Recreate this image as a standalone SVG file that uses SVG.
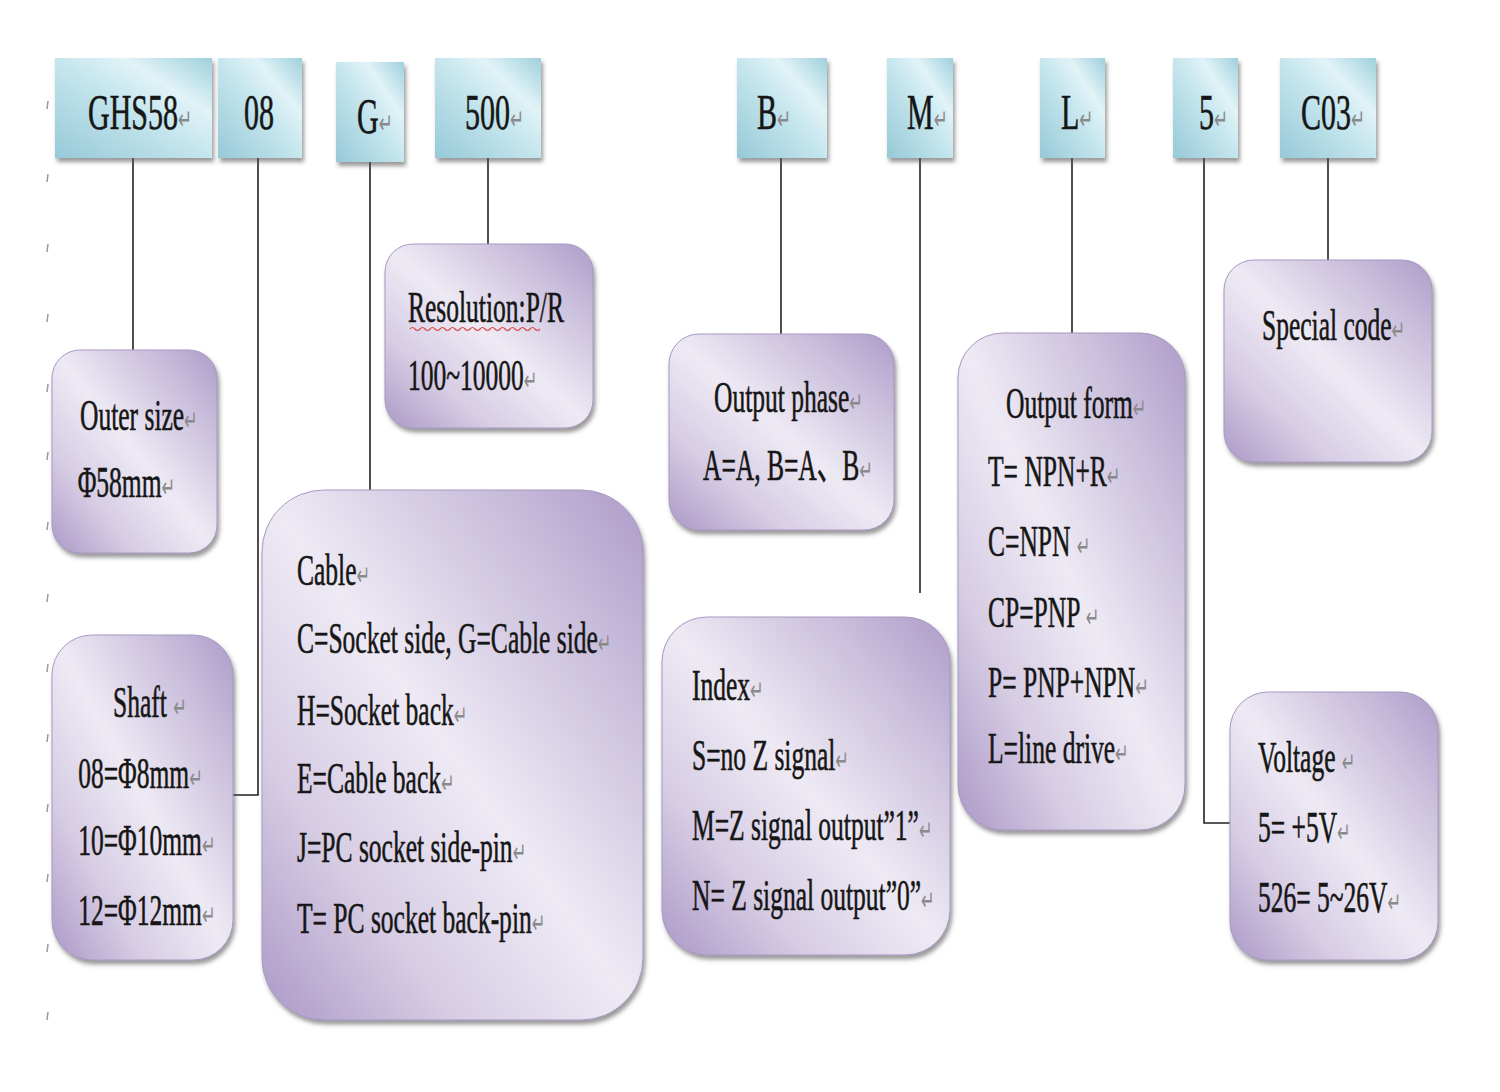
<svg xmlns="http://www.w3.org/2000/svg" width="1500" height="1092" viewBox="0 0 1500 1092">
<defs>
<style>
.t{font-family:"Liberation Serif","Noto Sans CJK SC",serif;font-size:44px;fill:#161616;stroke:#161616;stroke-width:0.6}
.tb{font-family:"Liberation Serif","Noto Sans CJK SC",serif;font-size:50px;fill:#161616;stroke:#161616;stroke-width:0.6}
.pm{font-family:"DejaVu Sans",sans-serif;font-size:28px;fill:#8a8a8a;stroke:none}
.pb{fill:url(#purple);stroke:#a898c2;stroke-width:1;filter:url(#sh)}
.bb{fill:url(#blue);filter:url(#sh)}
.ln{stroke:#222;stroke-width:1.6;fill:none}
.tick{stroke:#9a9a9a;stroke-width:1.5}
</style>
<linearGradient id="blue" x1="0" y1="1" x2="1" y2="0">
<stop offset="0" stop-color="#96c9d8"/>
<stop offset="0.5" stop-color="#c6e6ee"/>
<stop offset="0.72" stop-color="#e1f3f7"/>
<stop offset="1" stop-color="#9fd0dd"/>
</linearGradient>
<linearGradient id="purple" x1="1" y1="0" x2="0" y2="1">
<stop offset="0" stop-color="#ae9cc9"/>
<stop offset="0.22" stop-color="#cbc0dd"/>
<stop offset="0.5" stop-color="#eeeaf4"/>
<stop offset="0.75" stop-color="#d6cce4"/>
<stop offset="1" stop-color="#ab98c6"/>
</linearGradient>
<filter id="sh" x="-10%" y="-10%" width="125%" height="125%">
<feDropShadow dx="2" dy="4" stdDeviation="2" flood-color="#555" flood-opacity="0.6"/>
</filter>
</defs>
<rect width="1500" height="1092" fill="#ffffff"/>

<g id="margin-ticks">
<line class="tick" x1="48" y1="101" x2="47" y2="109"/>
<line class="tick" x1="48" y1="174" x2="47" y2="182"/>
<line class="tick" x1="48" y1="244" x2="47" y2="252"/>
<line class="tick" x1="48" y1="314" x2="47" y2="322"/>
<line class="tick" x1="48" y1="384" x2="47" y2="392"/>
<line class="tick" x1="48" y1="452" x2="47" y2="460"/>
<line class="tick" x1="48" y1="522" x2="47" y2="530"/>
<line class="tick" x1="48" y1="594" x2="47" y2="602"/>
<line class="tick" x1="48" y1="664" x2="47" y2="672"/>
<line class="tick" x1="48" y1="734" x2="47" y2="742"/>
<line class="tick" x1="48" y1="804" x2="47" y2="812"/>
<line class="tick" x1="48" y1="874" x2="47" y2="882"/>
<line class="tick" x1="48" y1="944" x2="47" y2="952"/>
<line class="tick" x1="48" y1="1012" x2="47" y2="1020"/>
</g>

<g id="connectors">
<line class="ln" x1="133" y1="158" x2="133" y2="350"/>
<polyline class="ln" points="258,158 258,795 233,795"/>
<line class="ln" x1="370" y1="162" x2="370" y2="490"/>
<line class="ln" x1="488" y1="158" x2="488" y2="244"/>
<line class="ln" x1="781" y1="158" x2="781" y2="334"/>
<line class="ln" x1="920" y1="158" x2="920" y2="593"/>
<line class="ln" x1="1072" y1="158" x2="1072" y2="333"/>
<polyline class="ln" points="1204,158 1204,823 1230,823"/>
<line class="ln" x1="1328" y1="158" x2="1328" y2="260"/>
</g>

<g id="code-GHS58"><rect class="bb" x="55" y="58" width="157" height="100"/>
<text class="tb" transform="translate(88,129) scale(0.6,1)">GHS58<tspan class="pm">↵</tspan></text></g>
<g id="code-08"><rect class="bb" x="218" y="58" width="84" height="100"/>
<text class="tb" transform="translate(244,129) scale(0.6,1)">08</text></g>
<g id="code-G"><rect class="bb" x="336" y="62" width="68" height="100"/>
<text class="tb" transform="translate(357,133) scale(0.6,1)">G<tspan class="pm">↵</tspan></text></g>
<g id="code-500"><rect class="bb" x="435" y="58" width="106" height="100"/>
<text class="tb" transform="translate(465,129) scale(0.6,1)">500<tspan class="pm">↵</tspan></text></g>
<g id="code-B"><rect class="bb" x="737" y="58" width="90" height="100"/>
<text class="tb" transform="translate(757,129) scale(0.6,1)">B<tspan class="pm">↵</tspan></text></g>
<g id="code-M"><rect class="bb" x="887" y="58" width="66" height="100"/>
<text class="tb" transform="translate(907,129) scale(0.6,1)">M<tspan class="pm">↵</tspan></text></g>
<g id="code-L"><rect class="bb" x="1040" y="58" width="65" height="100"/>
<text class="tb" transform="translate(1061,129) scale(0.6,1)">L<tspan class="pm">↵</tspan></text></g>
<g id="code-5"><rect class="bb" x="1173" y="58" width="65" height="100"/>
<text class="tb" transform="translate(1199,129) scale(0.6,1)">5<tspan class="pm">↵</tspan></text></g>
<g id="code-C03"><rect class="bb" x="1280" y="58" width="96" height="100"/>
<text class="tb" transform="translate(1301,129) scale(0.6,1)">C03<tspan class="pm">↵</tspan></text></g>

<g id="outer-size"><rect class="pb" x="52" y="350" width="165" height="203" rx="28"/>
<text class="t" transform="translate(80,430) scale(0.58,1)"><tspan x="0" y="0">Outer size<tspan class="pm">↵</tspan></tspan><tspan x="-4" y="67">Φ58mm<tspan class="pm">↵</tspan></tspan></text></g>

<g id="resolution"><rect class="pb" x="385" y="244" width="208" height="184" rx="28"/>
<text class="t" transform="translate(408,322) scale(0.58,1)"><tspan x="0" y="0">Resolution:P/R</tspan><tspan x="0" y="68">100~10000<tspan class="pm">↵</tspan></tspan></text>
<path d="M410,329 q2.5,-3 5,0 t5,0 t5,0 t5,0 t5,0 t5,0 t5,0 t5,0 t5,0 t5,0 t5,0 t5,0 t5,0 t5,0 t5,0 t5,0 t5,0 t5,0 t5,0 t5,0 t5,0 t5,0 t5,0 t5,0 t5,0 t5,0" fill="none" stroke="#d84a4a" stroke-width="1.2"/></g>

<g id="output-phase"><rect class="pb" x="669" y="334" width="225" height="196" rx="30"/>
<text class="t" transform="translate(714,412) scale(0.58,1)"><tspan x="0" y="0">Output phase<tspan class="pm">↵</tspan></tspan><tspan x="-19" y="68">A=A, B=A、B<tspan class="pm">↵</tspan></tspan></text></g>

<g id="cable"><rect class="pb" x="262" y="490" width="381" height="530" rx="62"/>
<text class="t" transform="translate(297,585) scale(0.58,1)"><tspan x="0" y="0">Cable<tspan class="pm">↵</tspan></tspan><tspan x="0" y="68">C=Socket side, G=Cable side<tspan class="pm">↵</tspan></tspan><tspan x="0" y="140">H=Socket back<tspan class="pm">↵</tspan></tspan><tspan x="0" y="208">E=Cable back<tspan class="pm">↵</tspan></tspan><tspan x="0" y="277">J=PC socket side-pin<tspan class="pm">↵</tspan></tspan><tspan x="0" y="348">T= PC socket back-pin<tspan class="pm">↵</tspan></tspan></text></g>

<g id="shaft"><rect class="pb" x="52" y="635" width="181" height="325" rx="40"/>
<text class="t" transform="translate(113,717) scale(0.58,1)"><tspan x="0" y="0">Shaft <tspan class="pm">↵</tspan></tspan><tspan x="-60" y="71">08=Φ8mm<tspan class="pm">↵</tspan></tspan><tspan x="-60" y="138">10=Φ10mm<tspan class="pm">↵</tspan></tspan><tspan x="-60" y="208">12=Φ12mm<tspan class="pm">↵</tspan></tspan></text></g>

<g id="index"><rect class="pb" x="662" y="617" width="288" height="338" rx="45"/>
<text class="t" transform="translate(692,700) scale(0.58,1)"><tspan x="0" y="0">Index<tspan class="pm">↵</tspan></tspan><tspan x="0" y="70">S=no Z signal<tspan class="pm">↵</tspan></tspan><tspan x="0" y="140">M=Z signal output”1”<tspan class="pm">↵</tspan></tspan><tspan x="0" y="210">N= Z signal output”0”<tspan class="pm">↵</tspan></tspan></text></g>

<g id="output-form"><rect class="pb" x="958" y="333" width="227" height="497" rx="45"/>
<text class="t" transform="translate(1006,418) scale(0.58,1)"><tspan x="0" y="0">Output form<tspan class="pm">↵</tspan></tspan><tspan x="-31" y="68">T= NPN+R<tspan class="pm">↵</tspan></tspan><tspan x="-31" y="138">C=NPN <tspan class="pm">↵</tspan></tspan><tspan x="-31" y="209">CP=PNP <tspan class="pm">↵</tspan></tspan><tspan x="-31" y="279">P= PNP+NPN<tspan class="pm">↵</tspan></tspan><tspan x="-31" y="345">L=line drive<tspan class="pm">↵</tspan></tspan></text></g>

<g id="special-code"><rect class="pb" x="1224" y="260" width="208" height="202" rx="30"/>
<text class="t" transform="translate(1262,340) scale(0.58,1)">Special code<tspan class="pm">↵</tspan></text></g>

<g id="voltage"><rect class="pb" x="1230" y="692" width="208" height="268" rx="38"/>
<text class="t" transform="translate(1258,772) scale(0.58,1)"><tspan x="0" y="0">Voltage <tspan class="pm">↵</tspan></tspan><tspan x="0" y="70">5= +5V<tspan class="pm">↵</tspan></tspan><tspan x="0" y="140">526= 5~26V<tspan class="pm">↵</tspan></tspan></text></g>
</svg>
